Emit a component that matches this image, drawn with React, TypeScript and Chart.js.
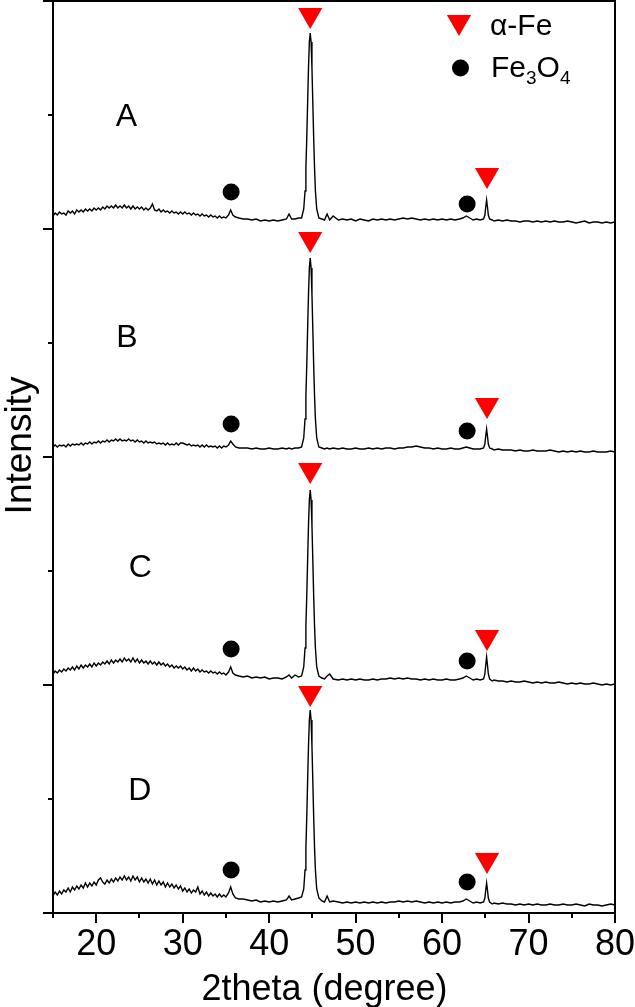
import React, { useEffect, useRef } from "react";
import { Chart, registerables } from "chart.js";

Chart.register(...registerables);

const FONT = '"Liberation Sans", Arial, Helvetica, sans-serif';

// 2theta sampling positions (degree)
const twoTheta = [
  15, 15.25, 15.5, 15.75, 16, 16.25, 16.5, 16.75, 17, 17.25,
  17.5, 17.75, 18, 18.25, 18.5, 18.75, 19, 19.25, 19.5, 19.75,
  20, 20.25, 20.5, 20.75, 21, 21.25, 21.5, 21.75, 22, 22.25,
  22.5, 22.75, 23, 23.25, 23.5, 23.75, 24, 24.25, 24.5, 24.75,
  25, 25.25, 25.5, 25.75, 26, 26.25, 26.5, 26.75, 27, 27.25,
  27.5, 27.75, 28, 28.25, 28.5, 28.75, 29, 29.25, 29.5, 29.75,
  30, 30.25, 30.5, 30.75, 31, 31.25, 31.5, 31.75, 32, 32.25,
  32.5, 32.75, 33, 33.25, 33.5, 33.75, 34, 34.25, 34.5, 34.75,
  35,
  35.3, 35.55, 35.8, 36.1, 36.5,
  37, 37.5, 38, 38.5, 39, 39.5, 40, 40.5, 41, 41.5, 42,
  42.3, 42.6, 43, 43.4,
  43.75, 44.0, 44.15, 44.25, 44.35, 44.45, 44.55, 44.65, 44.75, 44.85, 44.95, 45.05, 45.15, 45.25, 45.35, 45.5, 45.75,
  46.1, 46.4, 46.7, 47.0, 47.4,
  48, 48.5, 49, 49.5, 50, 50.5, 51, 51.5, 52, 52.5, 53, 53.5, 54, 54.5, 55, 55.5, 56, 56.5, 57, 57.5, 58, 58.5, 59, 59.5, 60, 60.5, 61, 61.5, 62,
  62.4, 62.8, 63.2, 63.6, 64, 64.4,
  64.8, 64.95, 65.05, 65.15, 65.25, 65.35, 65.5, 65.8,
  66, 66.5, 67, 67.5, 68, 68.5, 69, 69.5, 70, 70.5, 71, 71.5, 72, 72.5, 73, 73.5, 74, 74.5, 75, 75.5, 76, 76.5, 77, 77.5, 78, 78.5, 79, 79.5, 80,
];

// Intensity (a.u.) of each sample, above its own stacking offset
const intensityA = [
  13, 16, 14, 17, 15, 16, 14, 18, 16, 18,
  15, 19, 17, 19, 17, 20, 18, 20, 18, 21,
  19, 21, 19, 22, 20, 23, 21, 23, 21, 24,
  21, 23, 21, 24, 21, 23, 20, 23, 20, 22,
  20, 22, 19, 21, 19, 21, 25, 19, 18, 20,
  17, 19, 17, 18, 16, 18, 16, 17, 15, 17,
  15, 17, 15, 16, 14, 16, 14, 15, 13, 15,
  13, 14, 12, 14, 12, 13, 11, 13, 11, 12,
  11,
  14, 19, 14, 12, 11,
  10, 10, 9, 10, 8, 9, 8, 9, 8, 9, 10,
  15, 10, 10, 11,
  11, 20, 38, 61, 91, 126, 161, 187, 196, 187, 161, 126, 91, 61, 38, 20, 11,
  10, 9, 15, 9, 13,
  9, 10, 9, 10, 8, 10, 9, 8, 10, 9, 10, 9, 10, 9, 10, 11, 10, 11, 10, 9, 10, 9, 10, 9, 10, 9, 10, 9, 10,
  11, 13, 11, 9, 10, 9,
  10, 14, 22, 29, 22, 14, 10, 9,
  8, 9, 8, 9, 8, 8, 7, 8, 8, 7, 8, 7, 8, 7, 8, 7, 7, 8, 7, 6, 7, 8, 6, 7, 7, 6, 7, 6, 7,
];

const intensityB = [
  10, 12, 10, 12, 11, 12, 10, 13, 11, 13,
  12, 13, 12, 14, 12, 14, 13, 15, 13, 15,
  14, 16, 14, 16, 15, 17, 15, 17, 16, 18,
  16, 18, 16, 17, 16, 18, 16, 17, 15, 17,
  15, 16, 14, 16, 14, 15, 14, 15, 13, 14,
  13, 14, 12, 14, 12, 13, 12, 14, 12, 14,
  14, 13, 12, 13, 11, 12, 11, 12, 10, 12,
  10, 12, 10, 11, 10, 11, 9, 11, 9, 11,
  10,
  12, 16, 13, 10, 9,
  9, 9, 8, 9, 8, 8, 9, 8, 8, 9, 8,
  9, 8, 9, 9,
  10, 19, 38, 61, 92, 128, 163, 189, 199, 189, 163, 128, 92, 61, 38, 19, 10,
  9, 8, 9, 8, 9,
  8, 9, 8, 8, 9, 8, 8, 9, 8, 9, 8, 9, 9, 8, 9, 9, 10, 10, 11, 10, 9, 9, 8, 9, 8, 8, 9, 8, 8,
  9, 10, 9, 8, 8, 8,
  9, 13, 21, 28, 21, 13, 9, 8,
  7, 8, 7, 7, 7, 6, 7, 6, 6, 7, 6, 6, 6, 7, 6, 5, 6, 5, 6, 5, 6, 5, 5, 6, 5, 5, 5, 6, 5,
];

const intensityC = [
  11, 14, 12, 15, 13, 16, 14, 17, 15, 18,
  15, 19, 16, 20, 17, 20, 18, 21, 18, 22,
  19, 22, 20, 23, 21, 24, 21, 25, 22, 25,
  23, 26, 23, 27, 24, 26, 23, 27, 23, 26,
  22, 25, 22, 24, 21, 24, 21, 23, 20, 23,
  20, 22, 19, 21, 18, 20, 17, 19, 17, 19,
  16, 18, 15, 17, 14, 17, 14, 16, 13, 15,
  13, 14, 12, 14, 12, 13, 11, 13, 11, 12,
  10,
  13, 18, 12, 10, 9,
  8, 9, 7, 8, 7, 8, 6, 7, 7, 6, 8,
  10, 7, 10, 8,
  9, 18, 37, 59, 89, 125, 160, 185, 195, 185, 160, 125, 89, 59, 37, 18, 9,
  7, 6, 9, 11, 6,
  5, 6, 5, 6, 5, 6, 5, 5, 6, 5, 6, 6, 7, 6, 7, 6, 7, 6, 6, 5, 6, 5, 6, 5, 5, 6, 5, 5, 6,
  7, 9, 7, 5, 6, 5,
  6, 11, 20, 28, 20, 11, 6, 4,
  5, 4, 4, 3, 4, 3, 3, 4, 3, 2, 3, 2, 3, 2, 2, 3, 2, 1, 2, 1, 2, 1, 1, 2, 1, 0, 1, 0, 1,
];

const intensityD = [
  17, 21, 18, 22, 19, 23, 21, 25, 21, 26,
  23, 27, 24, 28, 25, 30, 26, 30, 27, 31,
  28, 33, 35, 31, 29, 33, 30, 34, 31, 35,
  32, 36, 33, 37, 33, 36, 32, 37, 33, 36,
  31, 35, 31, 34, 30, 34, 29, 33, 28, 32,
  28, 31, 26, 30, 26, 29, 25, 28, 24, 27,
  22, 25, 21, 24, 20, 23, 21, 26, 19, 22,
  18, 21, 17, 20, 17, 19, 16, 19, 16, 18,
  16,
  20, 26, 19, 15, 14,
  14, 13, 12, 13, 11, 12, 11, 12, 11, 12, 13,
  17, 13, 14, 15,
  16, 24, 43, 65, 96, 132, 167, 193, 203, 193, 167, 132, 96, 65, 43, 24, 15,
  12, 11, 17, 11, 12,
  11, 10, 11, 10, 11, 10, 11, 10, 11, 10, 11, 10, 11, 11, 12, 11, 12, 11, 12, 11, 10, 11, 10, 11, 10, 11, 10, 11, 11,
  12, 14, 12, 10, 11, 10,
  11, 15, 23, 30, 23, 15, 11, 9,
  10, 9, 10, 9, 9, 8, 9, 8, 9, 8, 9, 8, 8, 9, 8, 8, 9, 8, 8, 9, 8, 7, 9, 8, 8, 7, 8, 9, 8,
];

const sampleNames = ["A", "B", "C", "D"];
const panelOffsets = [684, 456, 228, 0];

// phase markers: 2theta positions and heights above each sample's offset
const alphaFeTheta = [44.75, 65.2];
const alphaFeMarkA = [214, 54];
const alphaFeMarkB = [218, 52];
const alphaFeMarkC = [215, 48];
const alphaFeMarkD = [220, 53];

const fe3o4Theta = [35.6, 62.9];
const fe3o4MarkA = [37, 25];
const fe3o4MarkB = [33, 26];
const fe3o4MarkC = [36, 24];
const fe3o4MarkD = [43, 31];

const xTickValues = [20, 30, 40, 50, 60, 70, 80];

const zeroPadding = (s: any) => {
  s.paddingLeft = 0;
  s.paddingRight = 0;
  s.paddingTop = 0;
  s.paddingBottom = 0;
};

const decorPlugin = {
  id: "decor",
  afterDraw(chart: any) {
    const { ctx, chartArea: ca, scales } = chart;
    const xs = scales.x;
    const ys = scales.y;
    ctx.save();
    ctx.strokeStyle = "#000";
    ctx.fillStyle = "#000";
    ctx.lineWidth = 2;
    ctx.strokeRect(ca.left, ca.top, ca.right - ca.left, ca.bottom - ca.top);

    // x ticks (major every 10, minor every 5)
    for (let v = 15; v <= 80; v += 5) {
      const px = Math.round(xs.getPixelForValue(v));
      const len = v % 10 === 0 ? 10 : 5;
      ctx.beginPath();
      ctx.moveTo(px, ca.bottom);
      ctx.lineTo(px, ca.bottom + len);
      ctx.stroke();
    }
    // y ticks
    for (let k = 0; k <= 8; k++) {
      const py = ys.getPixelForValue(k * 114);
      const len = k % 2 === 0 ? 10 : 5;
      ctx.beginPath();
      ctx.moveTo(ca.left - len, py);
      ctx.lineTo(ca.left, py);
      ctx.stroke();
    }

    // sample labels
    const labelTheta = [23.5, 23.55, 25.1, 25.05];
    const labelLift = [115, 122, 120, 125];
    ctx.font = `32px ${FONT}`;
    ctx.textAlign = "center";
    ctx.textBaseline = "alphabetic";
    sampleNames.forEach((n, i) => {
      const px = xs.getPixelForValue(labelTheta[i]);
      const py = ys.getPixelForValue(panelOffsets[i] + labelLift[i]);
      ctx.fillText(n, px, py + 11.5);
    });

    // legend
    const tx = 459, ty = 22, r = 14;
    ctx.fillStyle = "#ff0000";
    ctx.beginPath();
    ctx.moveTo(tx, ty + r);
    ctx.lineTo(tx - r * 0.866, ty - r / 2);
    ctx.lineTo(tx + r * 0.866, ty - r / 2);
    ctx.closePath();
    ctx.fill();
    ctx.fillStyle = "#000";
    ctx.beginPath();
    ctx.arc(460.5, 68, 8.5, 0, Math.PI * 2);
    ctx.fill();

    ctx.textAlign = "left";
    ctx.font = `30px ${FONT}`;
    ctx.fillText("\u03b1-Fe", 490, 35);
    let cx = 491;
    const base = 77;
    const parts: [string, boolean][] = [["Fe", false], ["3", true], ["O", false], ["4", true]];
    parts.forEach(([t, sub]) => {
      ctx.font = sub ? `19px ${FONT}` : `30px ${FONT}`;
      ctx.fillText(t, cx, sub ? base + 7 : base);
      cx += ctx.measureText(t).width;
    });

    // axis titles
    ctx.font = `36px ${FONT}`;
    ctx.textAlign = "center";
    ctx.fillText("2theta (degree)", 324.5, 1000);
    ctx.save();
    ctx.translate(30.5, 445.5);
    ctx.rotate(-Math.PI / 2);
    ctx.font = `37px ${FONT}`;
    ctx.fillText("Intensity", 0, 0);
    ctx.restore();

    ctx.restore();
  },
};

export default function App() {
  const ref = useRef<HTMLCanvasElement>(null);

  useEffect(() => {
    const canvas = ref.current;
    if (!canvas) return;
    const series = [intensityA, intensityB, intensityC, intensityD];
    const alphaMarks = [alphaFeMarkA, alphaFeMarkB, alphaFeMarkC, alphaFeMarkD];
    const oxideMarks = [fe3o4MarkA, fe3o4MarkB, fe3o4MarkC, fe3o4MarkD];
    const datasets: any[] = [];
    series.forEach((vals, i) => {
      datasets.push({
        label: sampleNames[i],
        data: twoTheta.map((t, j) => ({ x: t, y: panelOffsets[i] + vals[j] })),
        borderColor: "#000",
        borderWidth: 1.4,
        pointRadius: 0,
        tension: 0,
        fill: false,
      });
    });
    alphaMarks.forEach((h, i) => {
      datasets.push({
        label: "\u03b1-Fe",
        data: alphaFeTheta.map((t, j) => ({ x: t, y: panelOffsets[i] + h[j] })),
        showLine: false,
        pointStyle: "triangle",
        pointRotation: 180,
        pointRadius: 14,
        pointBackgroundColor: "#ff0000",
        pointBorderColor: "#ff0000",
        pointBorderWidth: 0,
      });
    });
    oxideMarks.forEach((h, i) => {
      datasets.push({
        label: "Fe3O4",
        data: fe3o4Theta.map((t, j) => ({ x: t, y: panelOffsets[i] + h[j] })),
        showLine: false,
        pointStyle: "circle",
        pointRadius: 8.5,
        pointBackgroundColor: "#000",
        pointBorderColor: "#000",
        pointBorderWidth: 0,
      });
    });

    const chart = new Chart(canvas, {
      type: "line",
      data: { datasets },
      plugins: [decorPlugin],
      options: {
        responsive: false,
        animation: false,
        events: [],
        layout: { autoPadding: false, padding: { left: 0, top: 1, right: 20, bottom: 0 } },
        plugins: { legend: { display: false }, tooltip: { enabled: false } },
        scales: {
          x: {
            type: "linear",
            min: 15,
            max: 80,
            grid: { display: false, drawTicks: false },
            border: { display: false },
            ticks: {
              color: "#000",
              font: { family: FONT, size: 36, lineHeight: 1.2 },
              padding: 10,
              maxRotation: 0,
              autoSkip: false,
            },
            afterBuildTicks: (s: any) => {
              s.ticks = xTickValues.map((v) => ({ value: v }));
            },
            afterFit: (s: any) => {
              s.height = 94;
              zeroPadding(s);
            },
          },
          y: {
            type: "linear",
            min: 0,
            max: 912,
            grid: { display: false, drawTicks: false },
            border: { display: false },
            ticks: { display: false },
            afterFit: (s: any) => {
              s.width = 53;
              zeroPadding(s);
            },
          },
        },
      },
    });
    return () => chart.destroy();
  }, []);

  return (
    <div style={{ position: "absolute", left: 0, top: 0, width: 635, height: 1007, background: "#fff" }}>
      <canvas ref={ref} width={635} height={1007} />
    </div>
  );
}
